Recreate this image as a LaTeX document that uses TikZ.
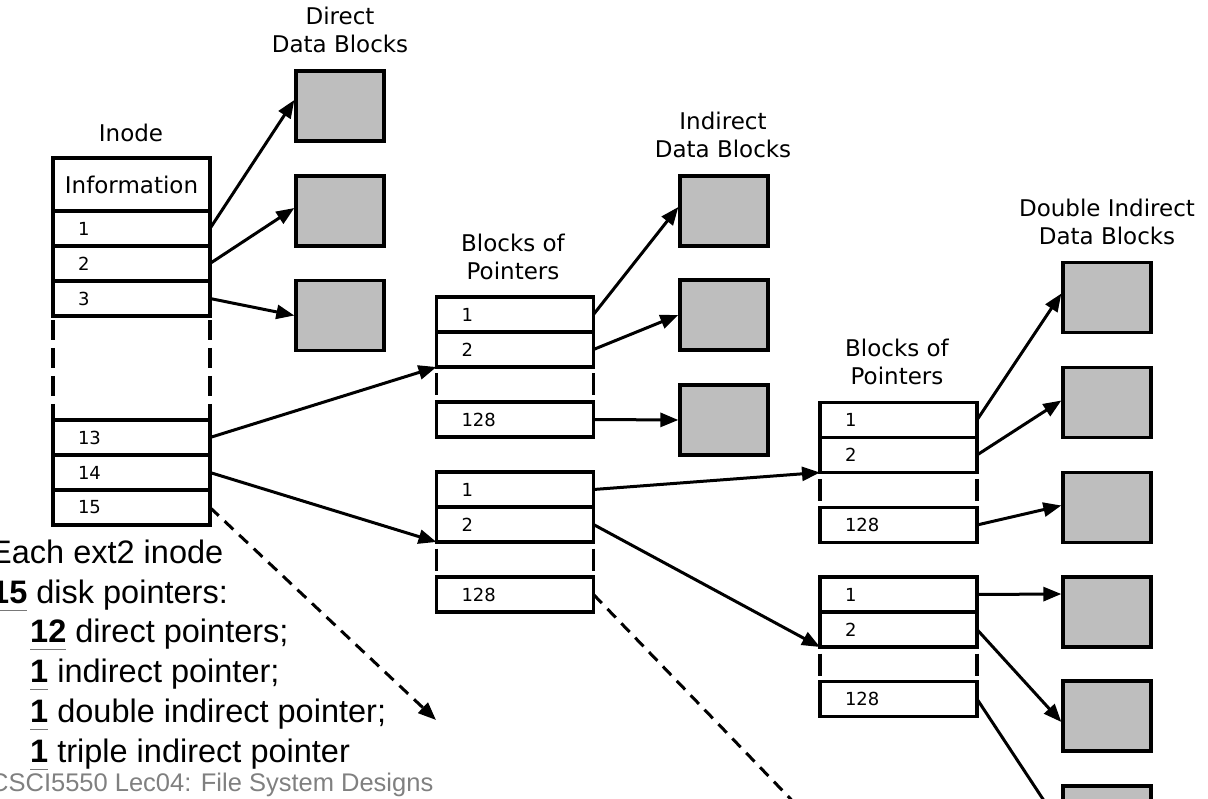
\documentclass[tikz,border=0pt]{standalone}
\usepackage{fontspec}
\setmainfont{Liberation Sans}
\newfontfamily\dejavu{DejaVu Sans}
\usetikzlibrary{arrows.meta}

\definecolor{cblk}{RGB}{190,190,190}
\definecolor{cfoot}{RGB}{128,128,128}
\definecolor{cul}{RGB}{120,120,120}

% bold number with a grey rule under it
\newcommand{\numul}[1]{\setbox0\hbox{\bfseries #1}\rlap{\color{cul}\rule[-8pt]{\wd0}{1.5pt}}\box0\relax}

\tikzset{
  cell/.style={draw, line width=3.3pt, outer sep=0pt, minimum width=157pt, minimum height=35pt,
    text width=107pt, inner xsep=25pt, inner ysep=0pt, align=left,
    font=\dejavu\fontsize{18}{18}\selectfont},
  infocell/.style={cell, minimum height=53pt, text width=147pt, inner xsep=5pt, align=center,
    font=\dejavu\fontsize{23}{23}\selectfont},
  datablk/.style={draw, line width=3.3pt, fill=cblk, minimum width=88pt, minimum height=70pt},
  head/.style={align=center, inner sep=0pt, font=\dejavu\fontsize{23}{28}\selectfont},
  ptr/.style={line width=3pt, -{Triangle[length=18pt,width=14pt]}},
  dptr/.style={ptr, dash pattern=on 12pt off 8pt},
  gapshort/.style={line width=3.3pt, dash pattern=on 22pt off 13pt, dash phase=28.5pt},
  gaplong/.style={line width=3.3pt, dash pattern=on 20pt off 8pt, dash phase=24pt},
  bullet/.style={anchor=base west, inner sep=0pt, font=\fontsize{32.5}{40}\selectfont},
}

\begin{document}
\begin{tikzpicture}[x=1pt,y=-1pt]
\clip (0,0) rectangle (1208,799);
%
\node[head] (hinode) at (131,133) {Inode};
\node[head] (hdirect) at (340,30) {Direct\\Data Blocks};
\node[head] (hindir) at (723,134.5) {Indirect\\Data Blocks};
\node[head] (hptra) at (513,256.5) {Blocks of\\Pointers};
\node[head] (hptrc) at (897,361.5) {Blocks of\\Pointers};
\node[head] (hdouble) at (1107,222) {Double Indirect\\Data Blocks};
%
% inode
\node[infocell] (info) at (131.5,184.5) {Information};
\node[cell] (r1) at (131.5,228.5) {1};
\node[cell] (r2) at (131.5,263.5) {2};
\node[cell] (r3) at (131.5,298.5) {3};
\node[cell] (r13) at (131.5,437.5) {13};
\node[cell] (r14) at (131.5,472.5) {14};
\node[cell] (r15) at (131.5,507.5) {15};
\draw[gaplong] (r3.south west) -- (r13.north west);
\draw[gaplong] (r3.south east) -- (r13.north east);
%
% blocks of pointers
\node[cell] (pa1) at (515,314.5) {1};
\node[cell] (pa2) at (515,349.5) {2};
\node[cell] (pa128) at (515,419.5) {128};
\draw[gapshort] (pa2.south west) -- (pa128.north west);
\draw[gapshort] (pa2.south east) -- (pa128.north east);
\node[cell] (pb1) at (515,489.5) {1};
\node[cell] (pb2) at (515,524.5) {2};
\node[cell] (pb128) at (515,594.5) {128};
\draw[gapshort] (pb2.south west) -- (pb128.north west);
\draw[gapshort] (pb2.south east) -- (pb128.north east);
\node[cell] (pc1) at (898.5,420) {1};
\node[cell] (pc2) at (898.5,455) {2};
\node[cell] (pc128) at (898.5,525) {128};
\draw[gapshort] (pc2.south west) -- (pc128.north west);
\draw[gapshort] (pc2.south east) -- (pc128.north east);
\node[cell] (pd1) at (898.5,594.5) {1};
\node[cell] (pd2) at (898.5,629.5) {2};
\node[cell] (pd128) at (898.5,699) {128};
\draw[gapshort] (pd2.south west) -- (pd128.north west);
\draw[gapshort] (pd2.south east) -- (pd128.north east);
%
% data blocks
\node[datablk] (d1) at (340,106) {};
\node[datablk] (d2) at (340,211) {};
\node[datablk] (d3) at (340,315.5) {};
\node[datablk] (i1) at (724,211) {};
\node[datablk] (i2) at (724,315) {};
\node[datablk] (i3) at (724,420) {};
\node[datablk] (e1) at (1107,297.5) {};
\node[datablk] (e2) at (1107,402.5) {};
\node[datablk] (e3) at (1107,507.5) {};
\node[datablk] (e4) at (1107,612) {};
\node[datablk] (e5) at (1107,716) {};
\node[datablk] (e6) at (1107,821) {};
\coordinate (triple) at (436,720);
\coordinate (dblmore) at (834,844);
%
\draw[ptr] (r1.east) -- ([yshift=6pt]d1.west);
\draw[ptr] (r2.east) -- ([yshift=3pt]d2.west);
\draw[ptr] (r3.east) -- (d3.west);
\draw[ptr] (r13.east) -- (pa2.south west);
\draw[ptr] (r14.east) -- (pb2.south west);
\draw[dptr] (r15.east) -- (triple);
\draw[ptr] (pa1.east) -- ([yshift=4pt]i1.west);
\draw[ptr] (pa2.east) -- (i2.west);
\draw[ptr] (pa128.east) -- (i3.west);
\draw[ptr] (pb1.east) -- (pc2.south west);
\draw[ptr] (pb2.east) -- (pd2.south west);
\draw[dptr] (pb128.east) -- (dblmore);
\draw[ptr] (pc1.east) -- ([yshift=4pt]e1.west);
\draw[ptr] (pc2.east) -- ([yshift=2pt]e2.west);
\draw[ptr] (pc128.east) -- ([yshift=2pt]e3.west);
\draw[ptr] (pd1.east) -- ([yshift=18pt]e4.west);
\draw[ptr] (pd2.east) -- ([yshift=-6pt]e5.west);
\draw[ptr] (pd128.east) -- ([yshift=-6pt]e6.west);
%
% text
\node[bullet] (t1) at (-10,563) {Each ext2 inode};
\node[bullet] (t2) at (-9,603) {\numul{15} disk pointers:};
\node[bullet] (t3) at (30,642) {\numul{12} direct pointers;};
\node[bullet] (t4) at (30,682) {\numul{1} indirect pointer;};
\node[bullet] (t5) at (30,722) {\numul{1} double indirect pointer;};
\node[bullet] (t6) at (30,762) {\numul{1} triple indirect pointer};
\node[bullet, text=cfoot, font=\fontsize{25.5}{25.5}\selectfont] (foot) at (-10,791) {CSCI5550 Lec04: File System Designs};
%
\end{tikzpicture}
\end{document}
